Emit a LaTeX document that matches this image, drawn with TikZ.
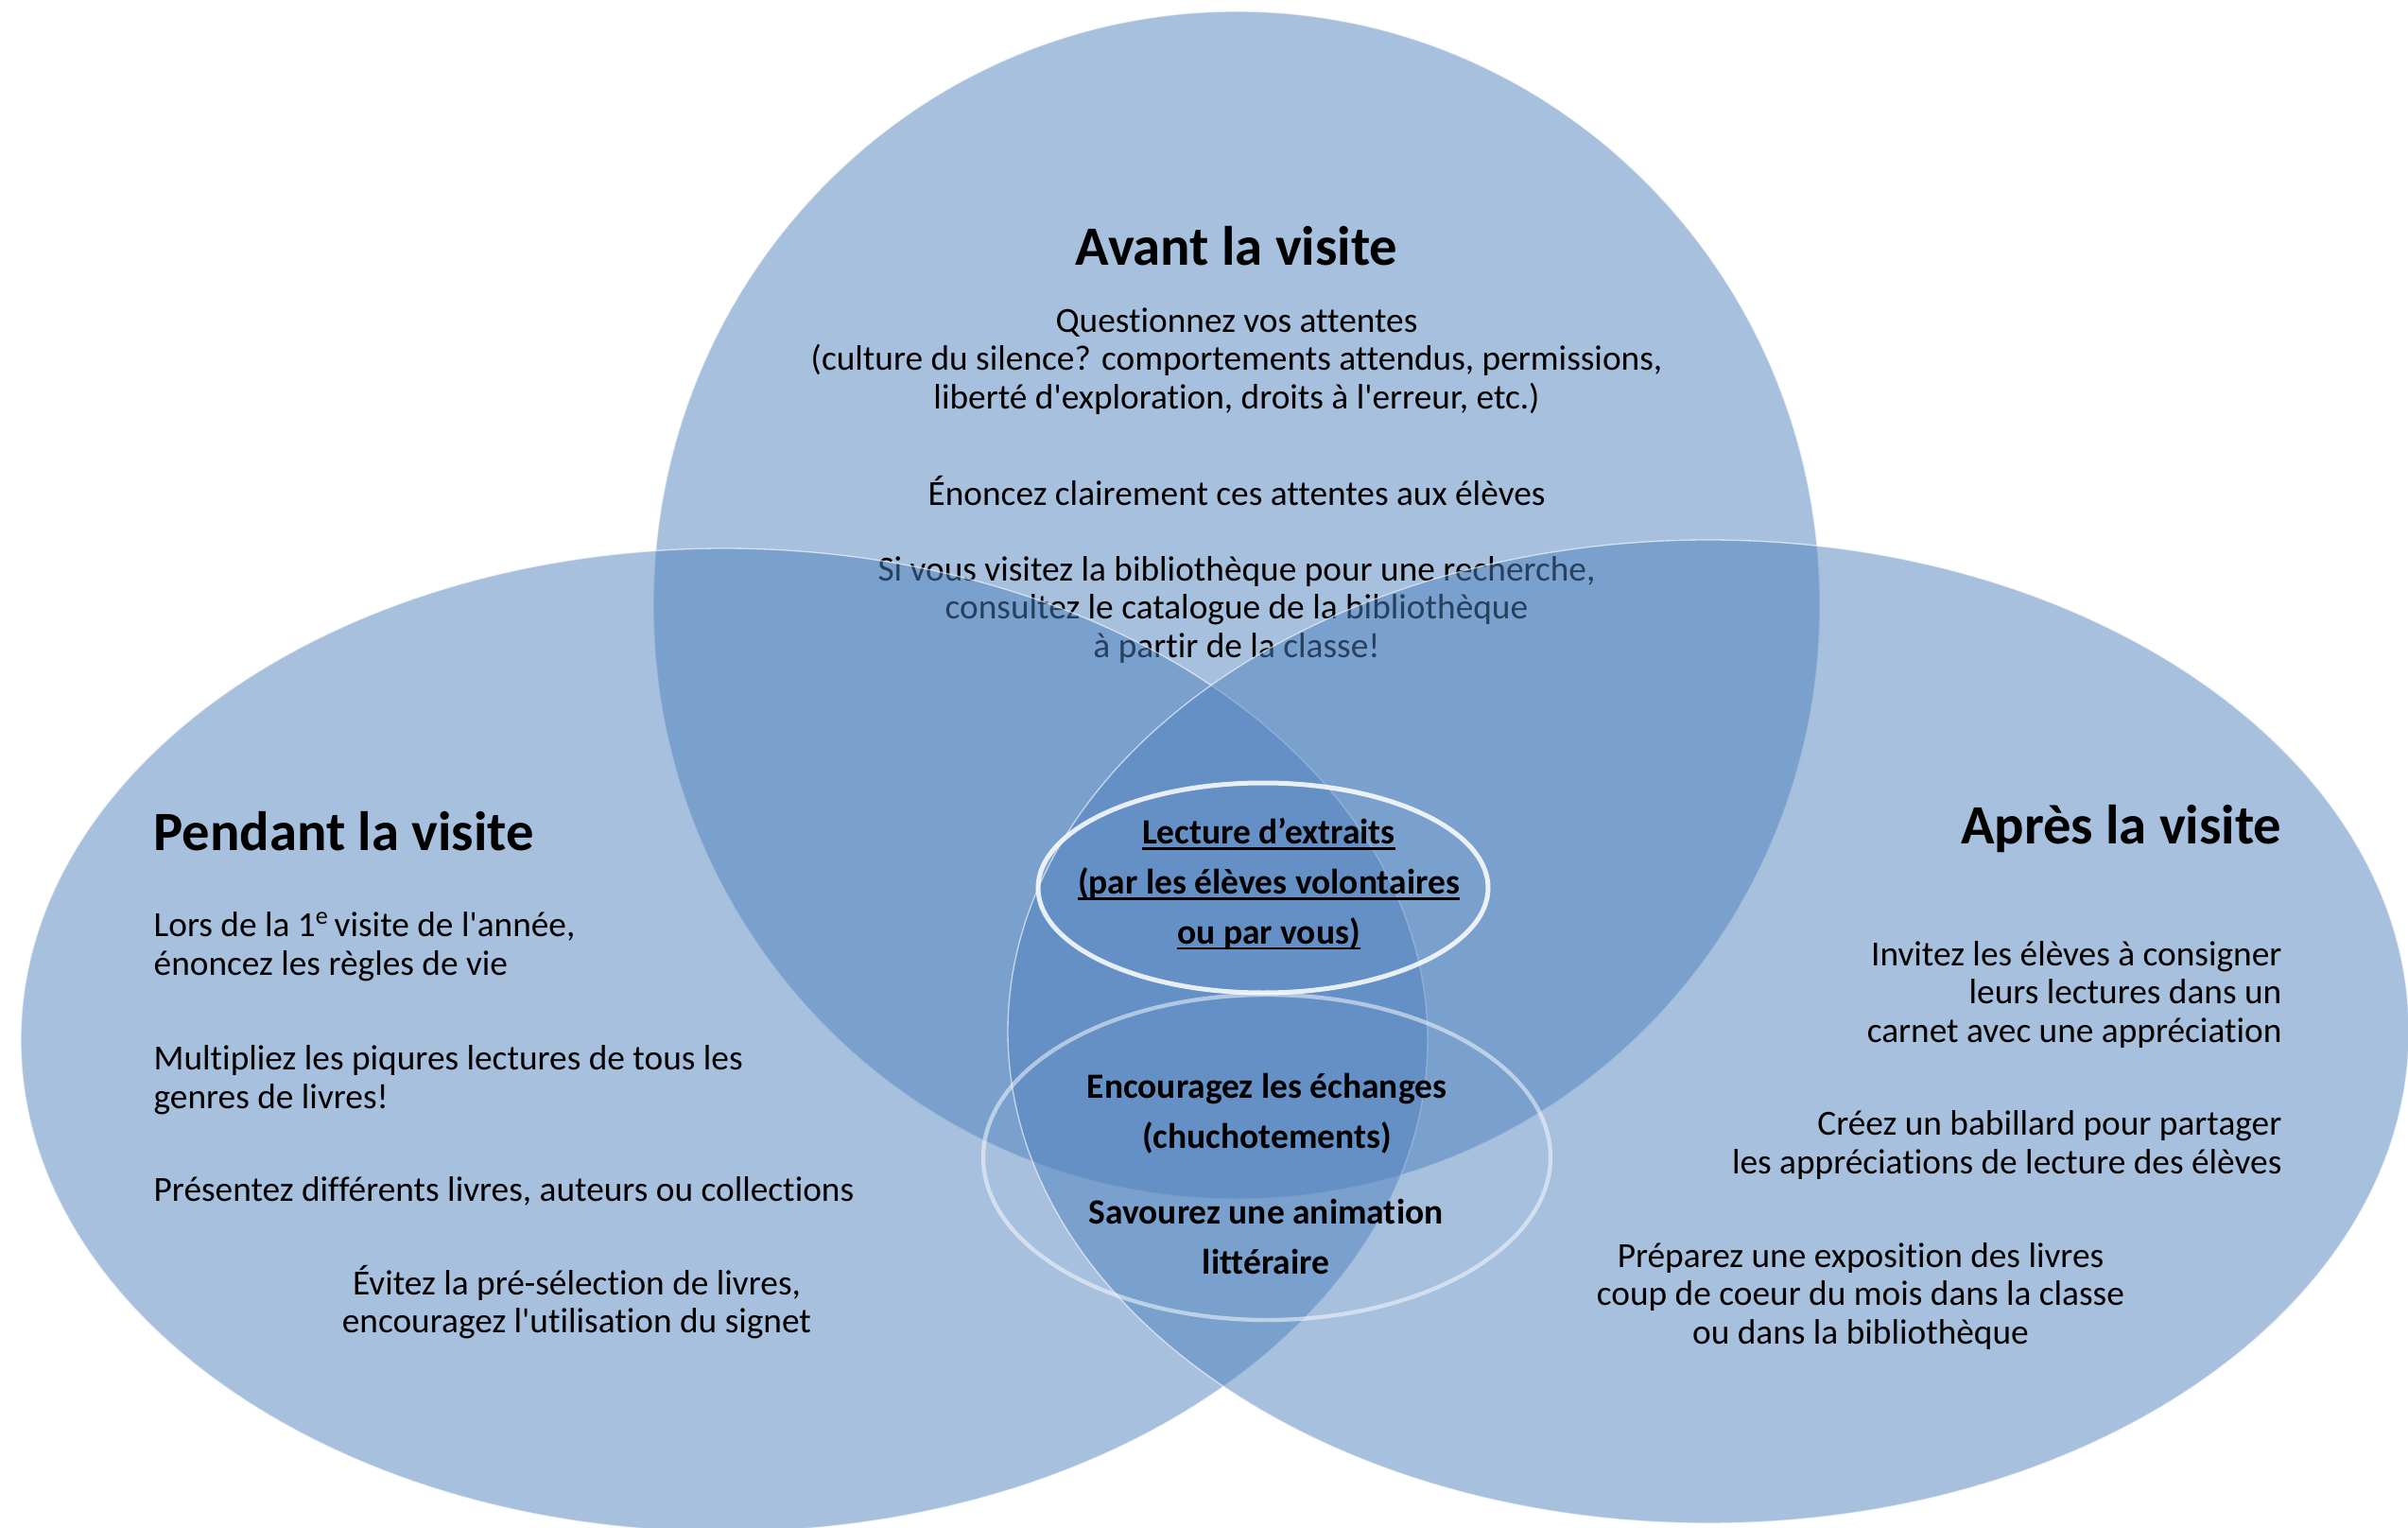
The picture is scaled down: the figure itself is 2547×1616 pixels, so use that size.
\documentclass[tikz,border=0pt]{standalone}
\usepackage{fontspec}
\setmainfont{Carlito}[Ligatures={TeXOff,CommonOff}]
\definecolor{acc}{HTML}{4F81BD}
\tikzset{
  bigell/.style={fill=acc, fill opacity=0.5, draw=white, draw opacity=0.6, line width=0.4pt},
  smallA/.style={draw=white, draw opacity=0.85, line width=1.5pt},
  smallB/.style={draw=white, draw opacity=0.5, line width=1.3pt},
  head/.style={font=\fontsize{17.6}{21}\selectfont\bfseries, inner sep=0pt},
  body/.style={font=\fontsize{11.2}{12.2}\selectfont, inner sep=0pt},
  ctr/.style={font=\fontsize{11.25}{15.8}\selectfont\bfseries, inner sep=0pt, align=center},
}
\newcommand\myul[1]{\setbox0\hbox{#1}\rlap{\rule[-1.9pt]{\wd0}{0.8pt}}\box0}
\begin{document}
\begin{tikzpicture}[x=0.3pt,y=-0.3pt]
\useasboundingbox (0,0) rectangle (2547,1616);
% top ellipse: Avant
\path[bigell] (1308,640) ellipse [x radius=185.1pt, y radius=188.4pt];
\node[head] (avant) at (1308,260) {Avant la visite};
\node[body, align=center] (quest) at (1308,382) {Questionnez vos attentes\\(culture du silence? comportements attendus, permissions,\\liberté d'exploration, droits à l'erreur, etc.)};
\node[body] (enonc) at (1308,519) {Énoncez clairement ces attentes aux élèves};
\node[body, align=center] (sivous) at (1308,645) {Si vous visitez la bibliothèque pour une recherche,\\consultez le catalogue de la bibliothèque\\à partir de la classe!};
% left ellipse: Pendant
\path[bigell] (766,1100) ellipse [x radius=223.2pt, y radius=156pt];
\node[head, anchor=west] (pendant) at (162,879) {Pendant la visite};
\node[body, align=left, anchor=west] (lors) at (162,1001) {Lors de la 1\textsuperscript{e}\kern-1pt\ visite de l'année,\\énoncez les règles de vie};
\node[body, align=left, anchor=west] (multi) at (162,1142.5) {Multipliez les piqures lectures de tous les\\genres de livres!};
\node[body, anchor=west] (pres) at (162,1260) {Présentez différents livres, auteurs ou collections};
\node[body, align=center] (evitez) at (610,1377) {Évitez la pré-sélection de livres,\\encouragez l'utilisation du signet};
% right ellipse: Apres
\path[bigell] (1807,1091) ellipse [x radius=222.3pt, y radius=156pt];
\node[head, anchor=east] (apres) at (2414,877) {Après la visite};
\node[body, align=right, anchor=east] (invit) at (2414,1052) {Invitez les élèves à consigner\\leurs lectures dans un\\carnet avec une appréciation};
\node[body, align=right, anchor=east] (creez) at (2414,1211) {Créez un babillard pour partager\\les appréciations de lecture des élèves};
\node[body, align=center] (prep) at (1968,1371) {Préparez une exposition des livres\\coup de coeur du mois dans la classe\\ou dans la bibliothèque};
% centre
\path[smallA] (1336,939) ellipse [x radius=71.4pt, y radius=33.3pt];
\path[smallB] (1340,1224) ellipse [x radius=90pt, y radius=51.6pt];
\node[ctr] (lect) at (1342,935) {\myul{Lecture d’extraits}\\\myul{(par les élèves volontaires}\\\myul{ou par vous)}};
\node[ctr] (enc) at (1340,1178) {Encouragez les échanges\\(chuchotements)};
\node[ctr] (sav) at (1339,1308) {Savourez une animation\\littéraire};
\end{tikzpicture}
\end{document}
